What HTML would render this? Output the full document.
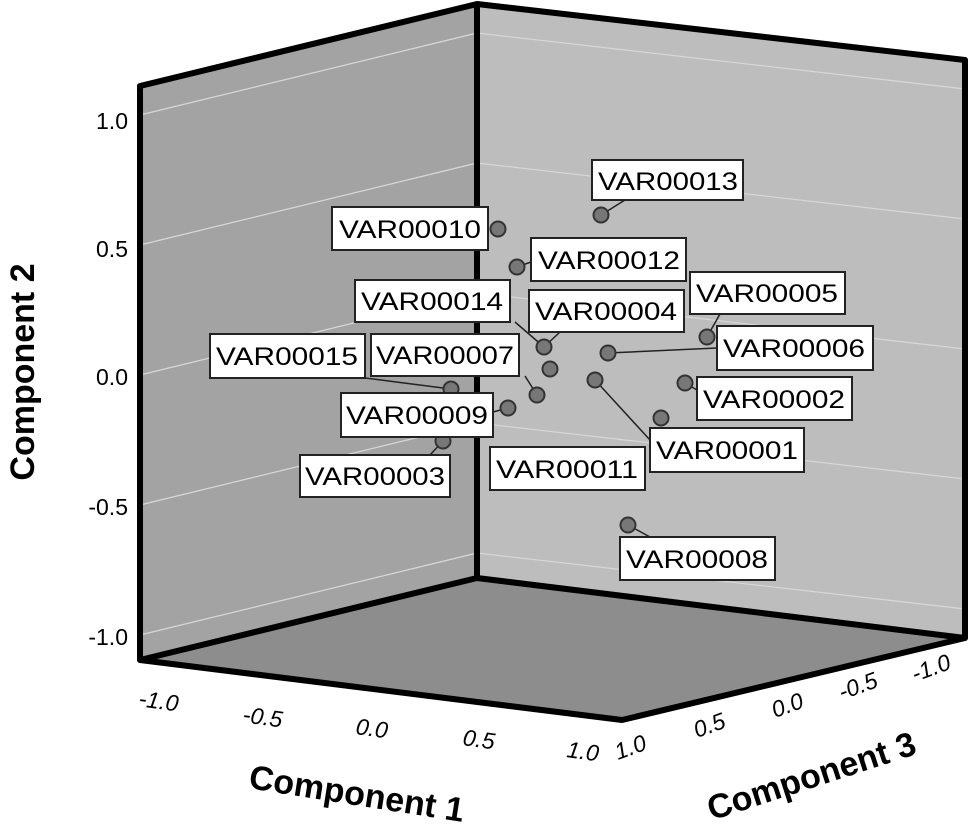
<!DOCTYPE html>
<html><head><style>body{margin:0;background:#fff}svg{display:block}</style></head><body>
<svg width="970" height="832" viewBox="0 0 970 832" xmlns="http://www.w3.org/2000/svg" font-family="Liberation Sans, Arial, sans-serif">
<polygon points="140,86 477,4 477,578 140,660" fill="#a3a3a3"/>
<polygon points="477,4 965,60 965,638 477,578" fill="#bdbdbd"/>
<polygon points="140,660 477,578 965,638 622,720" fill="#8d8d8d"/>
<g stroke="#d8d8d8" stroke-width="1.2" fill="none">
<line x1="140" y1="115" x2="477" y2="33"/><line x1="477" y1="33" x2="965" y2="89"/>
<line x1="140" y1="245" x2="477" y2="163"/><line x1="477" y1="163" x2="965" y2="219"/>
<line x1="140" y1="375" x2="477" y2="293"/><line x1="477" y1="293" x2="965" y2="349"/>
<line x1="140" y1="505" x2="477" y2="423"/><line x1="477" y1="423" x2="965" y2="479"/>
<line x1="140" y1="635" x2="477" y2="553"/><line x1="477" y1="553" x2="965" y2="609"/>
</g>
<g stroke="#000" stroke-width="6" fill="none" stroke-linejoin="round">
<polyline points="140,660 140,86 477,4 965,60 965,638"/>
<line x1="477" y1="4" x2="477" y2="578"/>
<polygon points="140,660 477,578 965,638 622,720"/>
</g>
<g font-size="23" fill="#000" text-anchor="end">
<text x="128" y="129">1.0</text><text x="128" y="257">0.5</text><text x="128" y="385">0.0</text><text x="128" y="515">-0.5</text><text x="128" y="645">-1.0</text>
</g>
<g font-size="23" font-style="italic" fill="#000">
<text x="138" y="706" transform="rotate(8 138 706)">-1.0</text>
<text x="242" y="722" transform="rotate(8 242 722)">-0.5</text>
<text x="355" y="734" transform="rotate(8 355 734)">0.0</text>
<text x="462" y="745" transform="rotate(8 462 745)">0.5</text>
<text x="566" y="757" transform="rotate(8 566 757)">1.0</text>
<text x="618" y="760" transform="rotate(-20 618 760)">1.0</text>
<text x="697" y="738" transform="rotate(-20 697 738)">0.5</text>
<text x="775" y="718" transform="rotate(-20 775 718)">0.0</text>
<text x="842" y="700" transform="rotate(-20 842 700)">-0.5</text>
<text x="915" y="682" transform="rotate(-20 915 682)">-1.0</text>
</g>
<g font-size="34" font-weight="bold" fill="#000">
<text x="0" y="0" text-anchor="middle" transform="translate(34,372) rotate(-90)">Component 2</text>
<text x="0" y="0" text-anchor="middle" transform="translate(355,805) rotate(9)">Component 1</text>
<text x="0" y="0" text-anchor="middle" transform="translate(815,787) rotate(-18)">Component 3</text>
</g>
<g stroke="#222" stroke-width="1.5">
<line x1="601" y1="215" x2="625" y2="200"/>
<line x1="517" y1="267" x2="531" y2="262"/>
<line x1="608" y1="353" x2="717" y2="348"/>
<line x1="707" y1="337" x2="720" y2="314"/>
<line x1="595" y1="380" x2="650" y2="440"/>
<line x1="451" y1="389" x2="365" y2="378"/>
<line x1="537" y1="395" x2="525" y2="376"/>
<line x1="544" y1="347" x2="515" y2="322"/>
<line x1="544" y1="347" x2="560" y2="332"/>
<line x1="508" y1="408" x2="493" y2="412"/>
<line x1="443" y1="441" x2="430" y2="455"/>
<line x1="628" y1="525" x2="650" y2="537"/>
<line x1="685" y1="383" x2="697" y2="390"/>
</g>
<g fill="#777" stroke="#333" stroke-width="2">
<circle cx="601" cy="215" r="7.5"/><circle cx="498" cy="229" r="7.5"/><circle cx="517" cy="267" r="7.5"/>
<circle cx="707" cy="337" r="7.5"/><circle cx="608" cy="353" r="7.5"/><circle cx="544" cy="347" r="7.5"/>
<circle cx="550" cy="369" r="7.5"/><circle cx="595" cy="380" r="7.5"/><circle cx="685" cy="383" r="7.5"/>
<circle cx="451" cy="389" r="7.5"/><circle cx="537" cy="395" r="7.5"/><circle cx="508" cy="408" r="7.5"/>
<circle cx="661" cy="418" r="7.5"/><circle cx="443" cy="441" r="7.5"/><circle cx="628" cy="525" r="7.5"/>
</g>
<g font-size="25" fill="#000">
<g stroke="#222" stroke-width="2" fill="#fff">
<rect x="592" y="160" width="151" height="40"/><rect x="332" y="207" width="156" height="43"/>
<rect x="531" y="238" width="155" height="43"/><rect x="355" y="280" width="155" height="42"/>
<rect x="529" y="290" width="155" height="42"/><rect x="690" y="272" width="155" height="42"/>
<rect x="717" y="326" width="156" height="44"/><rect x="210" y="334" width="155" height="44"/>
<rect x="371" y="334" width="148" height="42"/><rect x="697" y="377" width="155" height="43"/>
<rect x="341" y="393" width="152" height="44"/><rect x="650" y="428" width="154" height="44"/>
<rect x="490" y="447" width="155" height="43"/><rect x="300" y="455" width="150" height="42"/>
<rect x="620" y="537" width="155" height="43"/>
</g>
<g lengthAdjust="spacingAndGlyphs">
<text x="598" y="190" textLength="140" lengthAdjust="spacingAndGlyphs">VAR00013</text><text x="339" y="238" textLength="142" lengthAdjust="spacingAndGlyphs">VAR00010</text>
<text x="538" y="269" textLength="142" lengthAdjust="spacingAndGlyphs">VAR00012</text><text x="361" y="310" textLength="142" lengthAdjust="spacingAndGlyphs">VAR00014</text>
<text x="535" y="320" textLength="142" lengthAdjust="spacingAndGlyphs">VAR00004</text><text x="696" y="302" textLength="142" lengthAdjust="spacingAndGlyphs">VAR00005</text>
<text x="723" y="357" textLength="142" lengthAdjust="spacingAndGlyphs">VAR00006</text><text x="216" y="365" textLength="142" lengthAdjust="spacingAndGlyphs">VAR00015</text>
<text x="376" y="364" textLength="138" lengthAdjust="spacingAndGlyphs">VAR00007</text><text x="703" y="408" textLength="142" lengthAdjust="spacingAndGlyphs">VAR00002</text>
<text x="346" y="424" textLength="142" lengthAdjust="spacingAndGlyphs">VAR00009</text><text x="656" y="459" textLength="142" lengthAdjust="spacingAndGlyphs">VAR00001</text>
<text x="496" y="478" textLength="142" lengthAdjust="spacingAndGlyphs">VAR00011</text><text x="305" y="485" textLength="140" lengthAdjust="spacingAndGlyphs">VAR00003</text>
<text x="626" y="568" textLength="142" lengthAdjust="spacingAndGlyphs">VAR00008</text>
</g>
</g>
</svg>
</body></html>
